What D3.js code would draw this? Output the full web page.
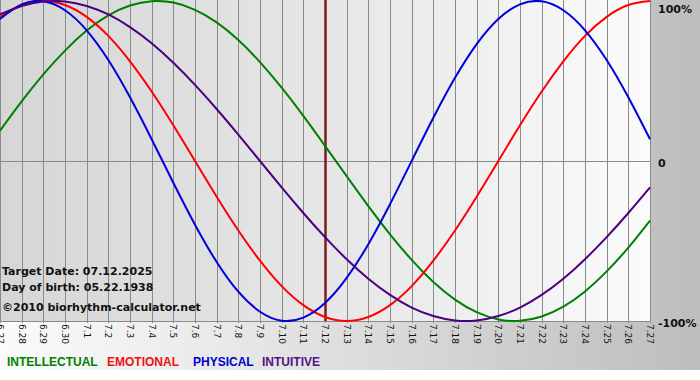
<!DOCTYPE html>
<html><head><meta charset="utf-8">
<script src="https://cdn.jsdelivr.net/npm/d3@7"></script>
<style>html,body{margin:0;padding:0;background:#fff;}svg{display:block;}</style>
</head><body>
<script>
const dates = ["6.27","6.28","6.29","6.30","7.1","7.2","7.3","7.4","7.5","7.6","7.7","7.8","7.9","7.10","7.11","7.12","7.13","7.14","7.15","7.16","7.17","7.18","7.19","7.20","7.21","7.22","7.23","7.24","7.25","7.26","7.27"];
const intellectual = [18.9,37.2,54.1,69.0,81.5,91.0,97.2,99.9,99.0,94.5,86.6,75.6,61.8,45.8,28.2,9.5,-9.5,-28.2,-45.8,-61.8,-75.6,-86.6,-94.5,-99.0,-99.9,-97.2,-91.0,-81.5,-69.0,-54.1,-37.2];
const emotional = [90.1,97.5,100,97.5,90.1,78.2,62.3,43.4,22.3,0,-22.3,-43.4,-62.3,-78.2,-90.1,-97.5,-100,-97.5,-90.1,-78.2,-62.3,-43.4,-22.3,0,22.3,43.4,62.3,78.2,90.1,97.5,100];
const physical = [88.8,97.9,99.8,94.2,81.7,63.1,39.8,13.6,-13.6,-39.8,-63.1,-81.7,-94.2,-99.8,-97.9,-88.8,-73.1,-52.0,-27.0,0,27.0,52.0,73.1,88.8,97.9,99.8,94.2,81.7,63.1,39.8,13.6];
const intuitive = [91.6,96.9,99.7,99.7,96.9,91.6,83.7,73.6,61.4,47.6,32.5,16.5,0,-16.5,-32.5,-47.6,-61.4,-73.6,-83.7,-91.6,-96.9,-99.7,-99.7,-96.9,-91.6,-83.7,-73.6,-61.4,-47.6,-32.5,-16.5];
const yTicks = [100, 0, -100];
const yTickLabels = ["100%", "0", "-100%"];
const legendNames = ["INTELLECTUAL", "EMOTIONAL", "PHYSICAL", "INTUITIVE"];
const targetDate = "7.12";
const infoLines = ["Target Date: 07.12.2025", "Day of birth: 05.22.1938", "\u00a92010 biorhythm-calculator.net"];

const W = 700, H = 380;
const plot = {left: 0, right: 651, top: 0, bottom: 321};

const series = [
  {name: "INTELLECTUAL", values: intellectual, color: "#008000", text: "#008000"},
  {name: "EMOTIONAL", values: emotional, color: "#ff0000", text: "#ee1111"},
  {name: "PHYSICAL", values: physical, color: "#0000dd", text: "#0000cc"},
  {name: "INTUITIVE", values: intuitive, color: "#4b0082", text: "#551188"}
];

const svg = d3.select("body").append("svg").attr("width", W).attr("height", H);
const defs = svg.append("defs");
const bgGrad = defs.append("linearGradient").attr("id", "bg").attr("x1", 0).attr("x2", 1).attr("y1", 0).attr("y2", 0);
bgGrad.append("stop").attr("offset", "0%").attr("stop-color", "#fbfbfb");
bgGrad.append("stop").attr("offset", "25%").attr("stop-color", "#ededed");
bgGrad.append("stop").attr("offset", "100%").attr("stop-color", "#bdbdbd");
const plotGrad = defs.append("linearGradient").attr("id", "plotbg").attr("x1", 0).attr("x2", 1).attr("y1", 0).attr("y2", 0);
plotGrad.append("stop").attr("offset", "0%").attr("stop-color", "#d6d6d6");
plotGrad.append("stop").attr("offset", "50%").attr("stop-color", "#e6e6e6");
plotGrad.append("stop").attr("offset", "100%").attr("stop-color", "#fbfbfb");
defs.append("clipPath").attr("id", "clip").append("rect")
  .attr("x", plot.left).attr("y", plot.top).attr("width", plot.right - plot.left).attr("height", plot.bottom - plot.top + 1);

svg.append("rect").attr("x", 0).attr("y", 0).attr("width", W).attr("height", 370).attr("fill", "url(#bg)");
svg.append("rect").attr("x", plot.left).attr("y", plot.top).attr("width", plot.right - plot.left).attr("height", plot.bottom - plot.top).attr("fill", "url(#plotbg)");

const x = d3.scalePoint().domain(dates).range([0, 650]);
const y = d3.scaleLinear().domain([-100, 100]).range([321, 1]);

// vertical grid
svg.append("g").selectAll("line").data(dates).join("line")
  .attr("x1", d => Math.round(x(d)) + 0.5).attr("x2", d => Math.round(x(d)) + 0.5)
  .attr("y1", plot.top).attr("y2", plot.bottom + 2)
  .attr("stroke", "#8a8a8a").attr("stroke-width", 1);
// horizontal lines
svg.append("g").selectAll("line").data([0, -100]).join("line")
  .attr("x1", plot.left).attr("x2", plot.right)
  .attr("y1", d => Math.round(y(d)) + 0.5).attr("y2", d => Math.round(y(d)) + 0.5)
  .attr("stroke", "#8a8a8a").attr("stroke-width", 1);

// info text
svg.append("g").selectAll("text").data(infoLines).join("text")
  .attr("x", 2).attr("y", (d, i) => [275, 291, 311][i])
  .attr("font-family", "DejaVu Sans, Verdana, sans-serif").attr("font-weight", "bold").attr("font-size", "11px")
  .attr("fill", "#111").text(d => d);

// target line
svg.append("line")
  .attr("x1", x(targetDate) + 0.5).attr("x2", x(targetDate) + 0.5)
  .attr("y1", plot.top).attr("y2", plot.bottom)
  .attr("stroke", "#7d1c1c").attr("stroke-width", 2.5);

// curves
const line = d3.line().x((d, i) => x(dates[i])).y(d => y(d)).curve(d3.curveNatural);
svg.append("g").attr("clip-path", "url(#clip)").selectAll("path").data(series).join("path")
  .attr("d", s => line(s.values)).attr("fill", "none")
  .attr("stroke", s => s.color).attr("stroke-width", 2);

// bottom axis (rotated labels)
const xAxis = svg.append("g").attr("transform", `translate(0,${plot.bottom})`)
  .call(d3.axisBottom(x).tickSize(0).tickPadding(0));
xAxis.select(".domain").remove();
xAxis.selectAll("text")
  .attr("font-family", "DejaVu Sans, Verdana, sans-serif").attr("font-size", "9px").attr("fill", "#111")
  .attr("text-anchor", "start").attr("dy", null).attr("y", 0)
  .attr("transform", "translate(-3.5,3) rotate(90)");

// right axis
const yAxis = svg.append("g").attr("transform", `translate(658,0)`)
  .call(d3.axisRight(y).tickValues(yTicks).tickSize(0).tickPadding(0).tickFormat((d, i) => yTickLabels[i]));
yAxis.select(".domain").remove();
yAxis.selectAll("text")
  .attr("font-family", "DejaVu Sans, Verdana, sans-serif").attr("font-weight", "bold").attr("font-size", "11px")
  .attr("fill", "#111").attr("x", 0)
  .attr("dy", d => d === 100 ? "11px" : "5px");

// legend
const legendX = [7, 107, 193, 262];
svg.append("g").selectAll("text").data(series).join("text")
  .attr("x", (d, i) => legendX[i]).attr("y", 366)
  .attr("font-family", "Liberation Sans, Arial, sans-serif").attr("font-weight", "bold").attr("font-size", "12px")
  .attr("fill", d => d.text).text((d, i) => legendNames[i]);
</script>
</body></html>
